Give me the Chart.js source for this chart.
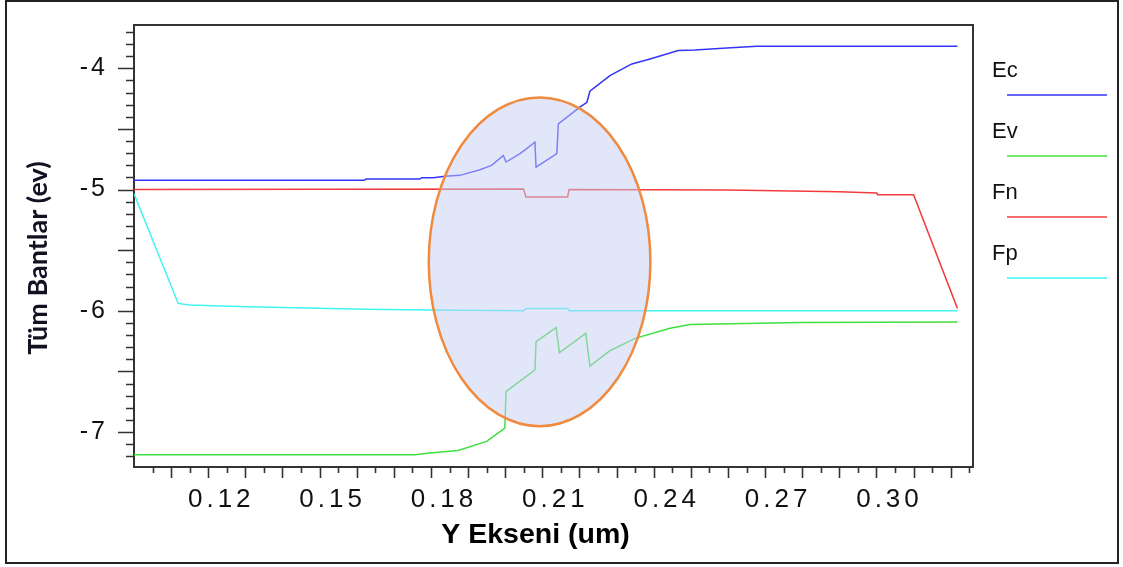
<!DOCTYPE html>
<html>
<head>
<meta charset="utf-8">
<title>Tüm Bantlar</title>
<script src="https://cdn.jsdelivr.net/npm/chart.js@4.4.1/dist/chart.umd.min.js"></script>
<style>
  html, body { margin: 0; padding: 0; background: #ffffff; }
  canvas { display: block; }
</style>
</head>
<body>
<canvas id="bands" width="1123" height="567"></canvas>
<script>
// Band edges and quasi-Fermi levels along the Y direction (um, eV)
const ecX = [0.1, 0.162, 0.1625, 0.177, 0.1775, 0.1806, 0.1838, 0.1878, 0.1932, 0.1963, 0.1995, 0.2002, 0.2040, 0.2080, 0.2083, 0.2139, 0.2143, 0.2201, 0.2220, 0.2228, 0.2282, 0.2341, 0.2390, 0.2466, 0.2511, 0.2597, 0.2678, 0.3218];
const ecY = [-4.924, -4.924, -4.913, -4.913, -4.902, -4.902, -4.891, -4.883, -4.836, -4.801, -4.719, -4.773, -4.704, -4.609, -4.815, -4.704, -4.458, -4.321, -4.280, -4.189, -4.060, -3.964, -3.923, -3.854, -3.849, -3.832, -3.819, -3.819];

const evX = [0.1, 0.1757, 0.1797, 0.1873, 0.1950, 0.1999, 0.2002, 0.2080, 0.2083, 0.2137, 0.2146, 0.2217, 0.2228, 0.2282, 0.2350, 0.2444, 0.2498, 0.2795, 0.3218];
const evY = [-7.187, -7.187, -7.173, -7.152, -7.077, -6.967, -6.666, -6.487, -6.255, -6.139, -6.345, -6.186, -6.455, -6.329, -6.227, -6.144, -6.113, -6.097, -6.093];

const fnX = [0.1, 0.2049, 0.2056, 0.2168, 0.2172, 0.26, 0.29, 0.3001, 0.3003, 0.3100, 0.3218];
const fnY = [-5.0, -4.995, -5.061, -5.061, -5.0, -5.003, -5.018, -5.029, -5.042, -5.042, -5.980];

const fpX = [0.1, 0.1119, 0.1150, 0.1213, 0.1307, 0.1433, 0.1622, 0.1797, 0.2049, 0.2056, 0.2168, 0.2172, 0.3218];
const fpY = [-5.034, -5.939, -5.953, -5.958, -5.967, -5.975, -5.988, -5.994, -6.0, -5.98, -5.98, -6.0, -6.0];

const seriesNames = ['Ec', 'Ev', 'Fn', 'Fp'];
const seriesColors = ['#3434f8', '#3ee03e', '#f23c3c', '#3ef4f4'];

const xTickLabels = ['0.12', '0.15', '0.18', '0.21', '0.24', '0.27', '0.30'];
const yTickLabels = ['-4', '-5', '-6', '-7'];

// Highlighted junction region (um, eV)
const highlightX = [0.1794, 0.2391];
const highlightY = [-6.951, -4.240];

const AXIS_COLOR = '#333333';
const LABEL_FONT = '"Liberation Sans", Arial, Helvetica, sans-serif';

function points(xs, ys) {
  return xs.map((x, i) => ({ x: x, y: ys[i] }));
}

function matchLabel(list, v) {
  const hit = list.find(l => Math.abs(parseFloat(l) - v) < 1e-9);
  return hit === undefined ? '' : hit;
}

// Per-axis label tracking and a small nudge for the axis title
function styleAxis(spacing, titleDx, titleDy) {
  return function (scale) {
    if (scale._styled) return;
    const drawLabels = scale.drawLabels;
    const drawTitle = scale.drawTitle;
    scale.drawLabels = function (area) {
      const ctx = this.ctx;
      ctx.save();
      ctx.letterSpacing = spacing;
      drawLabels.call(this, area);
      ctx.restore();
    };
    scale.drawTitle = function () {
      const ctx = this.ctx;
      ctx.save();
      ctx.translate(titleDx, titleDy);
      drawTitle.call(this);
      ctx.restore();
    };
    scale._styled = true;
  };
}

// Outer frame around the whole figure
const figureFrame = {
  id: 'figureFrame',
  beforeDraw(chart) {
    const ctx = chart.ctx;
    ctx.save();
    ctx.fillStyle = '#ffffff';
    ctx.fillRect(0, 0, chart.width, chart.height);
    ctx.strokeStyle = '#222222';
    ctx.lineWidth = 2;
    ctx.strokeRect(6, 1, 1112, 562);
    ctx.restore();
  }
};

// Translucent ellipse marking the junction
const junctionHighlight = {
  id: 'junctionHighlight',
  afterDatasetsDraw(chart) {
    const { ctx, scales: { x, y } } = chart;
    const x0 = x.getPixelForValue(highlightX[0]);
    const x1 = x.getPixelForValue(highlightX[1]);
    const y0 = y.getPixelForValue(highlightY[0]);
    const y1 = y.getPixelForValue(highlightY[1]);
    ctx.save();
    ctx.beginPath();
    ctx.ellipse((x0 + x1) / 2, (y0 + y1) / 2, Math.abs(x1 - x0) / 2, Math.abs(y1 - y0) / 2, 0, 0, Math.PI * 2);
    ctx.fillStyle = 'rgba(198, 206, 244, 0.5)';
    ctx.fill();
    ctx.strokeStyle = '#f08a3e';
    ctx.lineWidth = 2.5;
    ctx.stroke();
    ctx.restore();
  }
};

// Major / minor tick marks and the top/right edges of the plot box
const plotBox = {
  id: 'plotBox',
  afterDraw(chart) {
    const { ctx, chartArea: a, scales: { x, y } } = chart;
    ctx.save();
    ctx.strokeStyle = AXIS_COLOR;
    ctx.lineWidth = 1.6;
    ctx.beginPath();
    x.ticks.forEach(t => {
      const px = Math.round(x.getPixelForValue(t.value)) + 0.5;
      const major = Math.abs(t.value * 100 - Math.round(t.value * 100)) < 1e-6;
      ctx.moveTo(px, a.bottom);
      ctx.lineTo(px, a.bottom + (major ? 11 : 6));
    });
    y.ticks.forEach(t => {
      const py = Math.round(y.getPixelForValue(t.value)) + 0.5;
      const major = Math.abs(t.value * 2 - Math.round(t.value * 2)) < 1e-6;
      ctx.moveTo(a.left - (major ? 16 : 8), py);
      ctx.lineTo(a.left, py);
    });
    ctx.stroke();
    ctx.lineWidth = 2;
    ctx.beginPath();
    ctx.moveTo(a.left, a.top);
    ctx.lineTo(a.right, a.top);
    ctx.lineTo(a.right, a.bottom);
    ctx.stroke();
    ctx.restore();
  }
};

// Legend to the right of the plot: name above a line sample
const sideLegend = {
  id: 'sideLegend',
  afterDraw(chart) {
    const { ctx, chartArea: a } = chart;
    ctx.save();
    ctx.font = '22px ' + LABEL_FONT;
    ctx.textBaseline = 'middle';
    ctx.textAlign = 'left';
    chart.data.datasets.forEach((ds, i) => {
      const ty = a.top + 46 + i * 61;
      ctx.fillStyle = '#111111';
      ctx.fillText(ds.label, a.right + 19, ty);
      ctx.strokeStyle = ds.borderColor;
      ctx.lineWidth = 1.6;
      ctx.beginPath();
      ctx.moveTo(a.right + 34, ty + 24);
      ctx.lineTo(a.right + 134, ty + 24);
      ctx.stroke();
    });
    ctx.restore();
  }
};

const seriesData = [points(ecX, ecY), points(evX, evY), points(fnX, fnY), points(fpX, fpY)];

new Chart(document.getElementById('bands'), {
  type: 'line',
  data: {
    datasets: seriesNames.map((name, i) => ({
      label: name,
      data: seriesData[i],
      borderColor: seriesColors[i],
      backgroundColor: seriesColors[i],
      borderWidth: 1.5,
      pointRadius: 0,
      tension: 0,
      fill: false
    }))
  },
  options: {
    responsive: false,
    animation: false,
    events: [],
    layout: { padding: { top: 24, right: 150, left: 0, bottom: 0 } },
    plugins: {
      legend: { display: false },
      tooltip: { enabled: false }
    },
    scales: {
      x: {
        type: 'linear',
        min: 0.1,
        max: 0.326,
        afterBuildTicks(axis) {
          const ticks = [];
          for (let i = 1; i <= 45; i++) ticks.push({ value: (100 + 5 * i) / 1000 });
          axis.ticks = ticks;
        },
        afterFit(scale) { scale.height = 100; },
        afterUpdate: styleAxis('4px', -18, 0),
        border: { display: true, color: AXIS_COLOR, width: 2 },
        grid: { display: true, drawOnChartArea: false, drawTicks: true, tickLength: 11, tickColor: 'rgba(0,0,0,0)' },
        ticks: {
          autoSkip: false,
          maxRotation: 0,
          minRotation: 0,
          padding: 6,
          labelOffset: 13,
          color: '#111111',
          font: { family: LABEL_FONT, size: 26 },
          callback: v => matchLabel(xTickLabels, v)
        },
        title: {
          display: true,
          text: 'Y Ekseni (um)',
          color: '#000000',
          font: { family: LABEL_FONT, size: 28.5, weight: 'bold' },
          padding: { top: 0, bottom: 15 }
        }
      },
      y: {
        type: 'linear',
        min: -7.288,
        max: -3.643,
        afterBuildTicks(axis) {
          const ticks = [];
          for (let i = 0; i <= 35; i++) ticks.push({ value: (-72 + i) / 10 });
          axis.ticks = ticks;
        },
        afterFit(scale) { scale.width = 134; },
        afterUpdate: styleAxis('3px', 0, 12),
        border: { display: true, color: AXIS_COLOR, width: 2 },
        grid: { display: true, drawOnChartArea: false, drawTicks: true, tickLength: 16, tickColor: 'rgba(0,0,0,0)' },
        ticks: {
          autoSkip: false,
          padding: 10,
          color: '#111111',
          font: { family: LABEL_FONT, size: 25 },
          callback: v => matchLabel(yTickLabels, v)
        },
        title: {
          display: true,
          text: 'Tüm Bantlar (ev)',
          color: '#111122',
          font: { family: 'Lato, "Open Sans", sans-serif', size: 27, weight: 'bold' },
          padding: { top: 22, bottom: 0 }
        }
      }
    }
  },
  plugins: [figureFrame, junctionHighlight, plotBox, sideLegend]
});
</script>
</body>
</html>
